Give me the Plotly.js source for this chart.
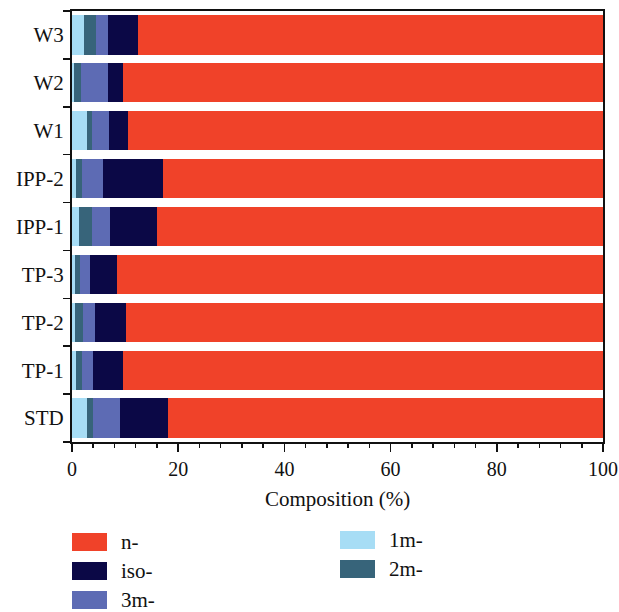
<!DOCTYPE html>
<html>
<head>
<meta charset="utf-8">
<script src="https://cdn.plot.ly/plotly-3.0.1.min.js"></script>
<style>html,body{margin:0;padding:0;background:#fff;}#chart{width:619px;height:612px;}</style>
</head>
<body>
<div id="chart"></div>
<script>
// Categories (bottom to top)
const categories = ["STD", "TP-1", "TP-2", "TP-3", "IPP-1", "IPP-2", "W1", "W2", "W3"];
// Series values (% composition)
const m1  = [2.8, 0.7, 0.5, 0.5, 1.4, 0.7, 2.8, 0.3, 2.2];
const m2  = [1.1, 1.1, 1.5, 1.0, 2.3, 1.1, 0.9, 1.3, 2.3];
const m3  = [5.1, 2.1, 2.3, 1.8, 3.4, 4.0, 3.2, 5.1, 2.2];
const iso = [9.0, 5.7, 5.8, 5.1, 8.9, 11.3, 3.6, 2.9, 5.7];
const nn  = [82.0, 90.4, 89.9, 91.6, 84.0, 82.9, 89.5, 90.4, 87.6];
const xTickVals = [0, 20, 40, 60, 80, 100];

const seriesNames = ["1m-", "2m-", "3m-", "iso-", "n-"];
const seriesData = [m1, m2, m3, iso, nn];
const colors = {"1m-": "#A7DDF5", "2m-": "#37647A", "3m-": "#5D6BB4", "iso-": "#0B0846", "n-": "#F04229"};

const traces = seriesNames.map((name, i) => ({
  type: "bar",
  orientation: "h",
  name: name,
  y: categories,
  x: seriesData[i],
  marker: {color: colors[name], line: {width: 0}},
  showlegend: false,
  hoverinfo: "x+name"
}));

const fam = "Liberation Serif, Times New Roman, serif";
const tickFont = {family: fam, size: 20, color: "#111"};
const titleFont = {family: fam, size: 21, color: "#111"};
const legFont = {family: fam, size: 21, color: "#111"};

// Custom legend (two columns, column-major like the reference)
const legendLayout = [
  {name: "n-",   col: 0, row: 0},
  {name: "iso-", col: 0, row: 1},
  {name: "3m-",  col: 0, row: 2},
  {name: "1m-",  col: 1, row: 0},
  {name: "2m-",  col: 1, row: 1}
];
const W = 619, H = 612, mL = 72, mR = 16, mT = 11, mB = 170;
const pw = W - mL - mR, ph = H - mT - mB;
const px2x = p => (p - mL) / pw;
const py2y = p => (H - mB - p) / ph;
const colX = [72, 340];
const colY0 = [533, 531];
const rowStep = 29;
const shapes = [];
const annotations = [];
legendLayout.forEach(it => {
  const x0 = colX[it.col], y0 = colY0[it.col] + it.row * rowStep;
  shapes.push({type: "rect", xref: "paper", yref: "paper",
    x0: px2x(x0), x1: px2x(x0 + 35), y0: py2y(y0 + 18), y1: py2y(y0),
    fillcolor: colors[it.name], line: {width: 0}});
  annotations.push({xref: "paper", yref: "paper", x: px2x(x0 + 47), y: py2y(y0 + 9),
    xanchor: "left", yanchor: "middle", text: it.name, showarrow: false, font: legFont});
});

const layout = {
  width: W, height: H,
  margin: {l: mL, r: mR, t: mT, b: mB, pad: 0},
  paper_bgcolor: "#fff", plot_bgcolor: "#fff",
  barmode: "stack",
  bargap: 0.18,
  font: tickFont,
  showlegend: false,
  xaxis: {
    range: [0, 100],
    tickvals: xTickVals,
    ticks: "outside", ticklen: 8, tickwidth: 1.5, tickcolor: "#111",
    minor: {dtick: 4, tick0: 0, ticks: "outside", ticklen: 4, tickwidth: 1.5, tickcolor: "#111"},
    showgrid: false, zeroline: false,
    showline: true, linecolor: "#111", linewidth: 2, mirror: true,
    tickfont: tickFont,
    title: {text: "Composition (%)", font: titleFont, standoff: 12}
  },
  yaxis: {
    type: "category",
    categoryorder: "array", categoryarray: categories,
    range: [-0.5, 8.5],
    tickson: "boundaries",
    ticks: "outside", ticklen: 7, tickwidth: 1.5, tickcolor: "#111",
    ticklabelstandoff: 2,
    showgrid: false, zeroline: false,
    showline: true, linecolor: "#111", linewidth: 2, mirror: true,
    tickfont: titleFont
  },
  shapes: shapes,
  annotations: annotations
};

Plotly.newPlot("chart", traces, layout, {displayModeBar: false, staticPlot: true});
</script>
</body>
</html>
